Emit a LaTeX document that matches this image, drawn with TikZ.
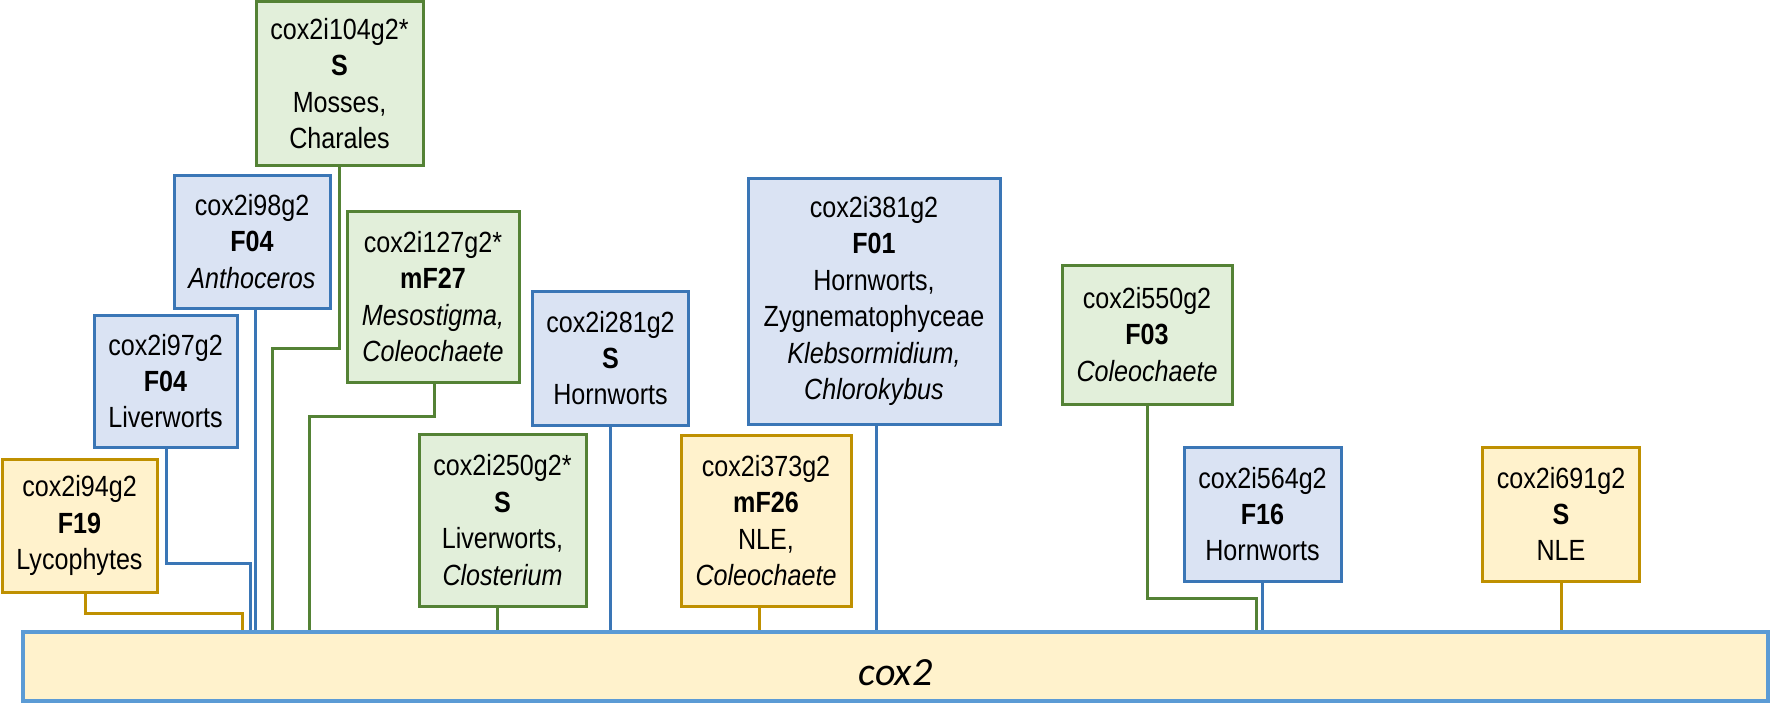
\documentclass[tikz,border=0pt]{standalone}
\usepackage{fontspec}
\setmainfont{Liberation Sans}[FakeStretch=0.86]
\newfontfamily\barfont{Carlito}
\definecolor{blueB}{RGB}{58,118,182}
\definecolor{blueF}{RGB}{218,227,243}
\definecolor{greenB}{RGB}{84,130,53}
\definecolor{greenF}{RGB}{226,239,218}
\definecolor{goldB}{RGB}{191,144,0}
\definecolor{goldF}{RGB}{255,242,204}
\definecolor{barB}{RGB}{91,155,213}
\tikzset{
  sz/.style 2 args={minimum width=#1*0.5pt, minimum height=#2*0.5pt},
  boxbase/.style={draw, line width=1.5pt, rectangle, inner sep=0pt, align=center,
    font=\fontsize{14.6}{18.2}\selectfont},
  bluebox/.style={boxbase, draw=blueB, fill=blueF},
  greenbox/.style={boxbase, draw=greenB, fill=greenF},
  goldbox/.style={boxbase, draw=goldB, fill=goldF},
  conn/.style={line width=1.5pt},
  bconn/.style={conn, draw=blueB},
  gconn/.style={conn, draw=greenB},
  yconn/.style={conn, draw=goldB},
}
\begin{document}
\begin{tikzpicture}[x=0.5pt,y=-0.5pt]
\useasboundingbox (0,0) rectangle (1772,706);
% boxes
\node[greenbox, sz={167}{163}] (b104) at (339.5,83.5) {cox2i104g2*\\\textbf{S}\\Mosses,\\Charales};
\node[bluebox, sz={156}{133}] (b98) at (252,241.5) {cox2i98g2\\\textbf{F04}\\\textit{Anthoceros}};
\node[greenbox, sz={172}{171}] (b127) at (433,296.5) {cox2i127g2*\\\textbf{mF27}\\\textit{Mesostigma,}\\\textit{Coleochaete}};
\node[bluebox, sz={143}{132}] (b97) at (165.5,381) {cox2i97g2\\\textbf{F04}\\Liverworts};
\node[goldbox, sz={155}{133}] (b94) at (79.5,525.5) {cox2i94g2\\\textbf{F19}\\Lycophytes};
\node[greenbox, sz={167}{172}] (b250) at (502.5,520) {cox2i250g2*\\\textbf{S}\\Liverworts,\\\textit{Closterium}};
\node[bluebox, sz={156}{134}] (b281) at (610.5,358) {cox2i281g2\\\textbf{S}\\Hornworts};
\node[bluebox, sz={252}{246}] (b381) at (874,301) {cox2i381g2\\\textbf{F01}\\Hornworts,\\Zygnematophyceae\\\textit{Klebsormidium,}\\\textit{Chlorokybus}};
\node[goldbox, sz={170}{171}] (b373) at (766,520.5) {cox2i373g2\\\textbf{mF26}\\NLE,\\\textit{Coleochaete}};
\node[greenbox, sz={170}{139}] (b550) at (1147,334.5) {cox2i550g2\\\textbf{F03}\\\textit{Coleochaete}};
\node[bluebox, sz={157}{134}] (b564) at (1262.5,514) {cox2i564g2\\\textbf{F16}\\Hornworts};
\node[goldbox, sz={157}{134}] (b691) at (1561,514) {cox2i691g2\\\textbf{S}\\NLE};
% bar
\node[draw=barB, fill=goldF, line width=2pt, rectangle, inner sep=0pt, sz={1745}{69}] (bar) at (895.5,666.5) {};
\node[font=\barfont\itshape\fontsize{20}{24}\selectfont, inner sep=0pt] (barlbl) at ([yshift=-3pt]bar.center) {cox2};
% jog coordinates
\coordinate (s94) at (85,613);   \coordinate (j94) at (242,613);
\coordinate (s97) at (166,563);  \coordinate (j97) at (250,563);
\coordinate (s104) at (339,348); \coordinate (j104) at (272,348);
\coordinate (s127) at (434,416); \coordinate (j127) at (309,416);
\coordinate (s550) at (1147,598); \coordinate (j550) at (1256,598);
\coordinate (x98) at (255,0);
\coordinate (x250) at (497,0);
\coordinate (x281) at (610,0);
\coordinate (x381) at (876,0);
\coordinate (x373) at (759,0);
\coordinate (x564) at (1262,0);
\coordinate (x691) at (1561,0);
% connectors
\draw[yconn] (b94.south -| s94) |- (j94) -- (j94 |- bar.north);
\draw[bconn] (b97.south -| s97) |- (j97) -- (j97 |- bar.north);
\draw[gconn] (b104.south -| s104) |- (j104) -- (j104 |- bar.north);
\draw[gconn] (b127.south -| s127) |- (j127) -- (j127 |- bar.north);
\draw[gconn] (b550.south -| s550) |- (j550) -- (j550 |- bar.north);
\draw[bconn] (b98.south -| x98) -- (bar.north -| x98);
\draw[gconn] (b250.south -| x250) -- (bar.north -| x250);
\draw[bconn] (b281.south -| x281) -- (bar.north -| x281);
\draw[bconn] (b381.south -| x381) -- (bar.north -| x381);
\draw[yconn] (b373.south -| x373) -- (bar.north -| x373);
\draw[bconn] (b564.south -| x564) -- (bar.north -| x564);
\draw[yconn] (b691.south -| x691) -- (bar.north -| x691);
\end{tikzpicture}
\end{document}
